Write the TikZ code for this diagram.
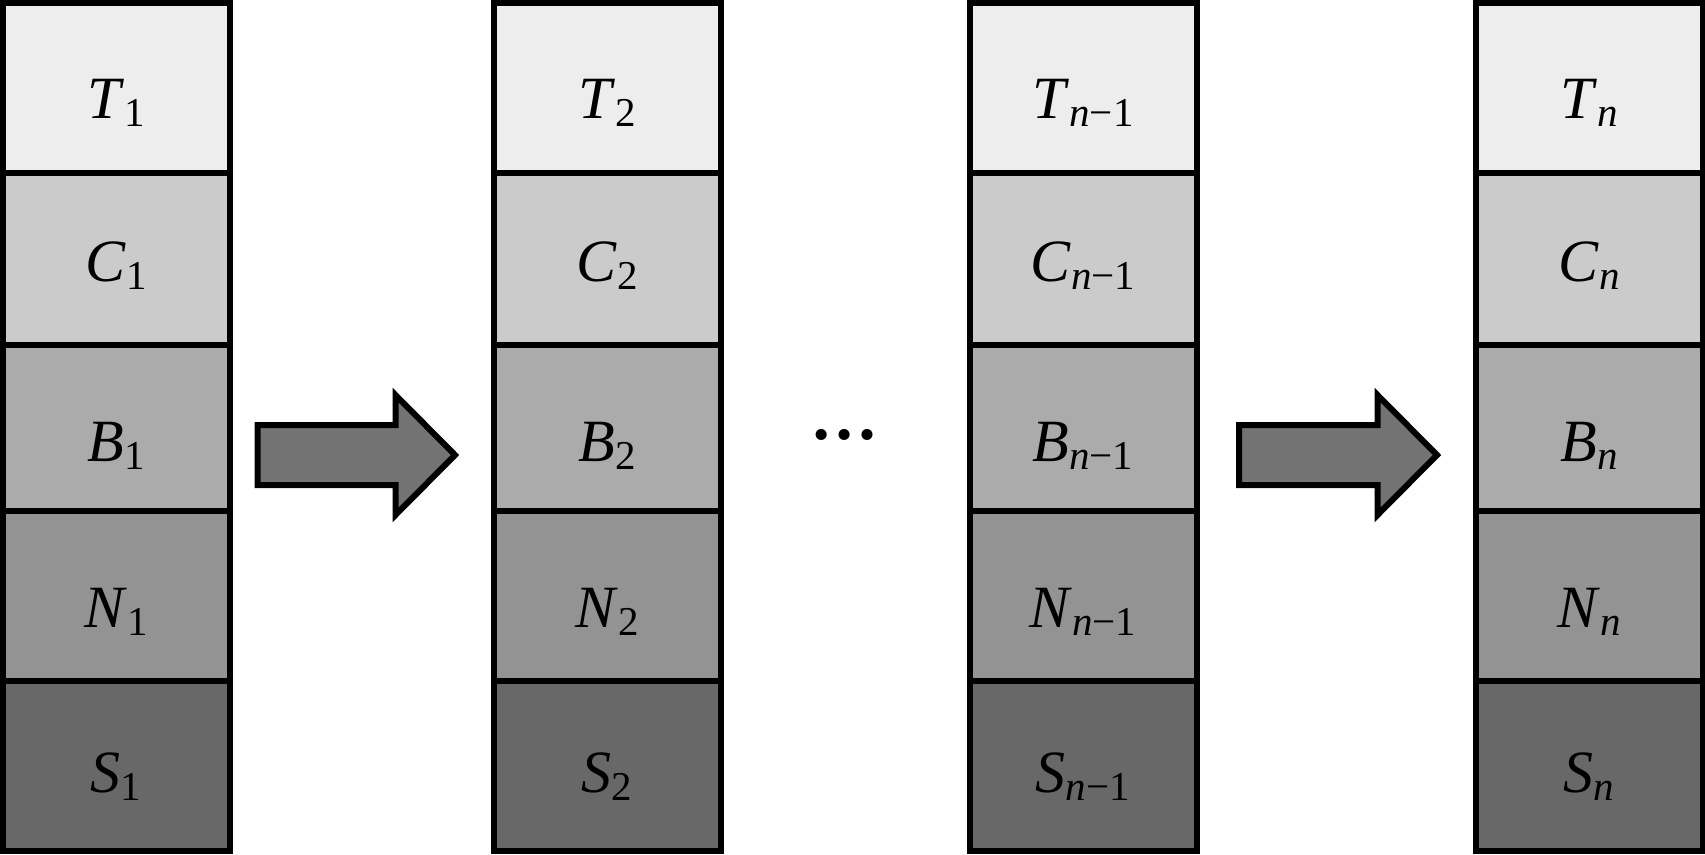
\documentclass[tikz,border=0pt]{standalone}
\usepackage{fontspec}
\setmainfont{Liberation Serif}
\definecolor{tcol}{HTML}{EDEDED}
\definecolor{ccol}{HTML}{CBCBCB}
\definecolor{bcol}{HTML}{ABABAB}
\definecolor{ncol}{HTML}{939393}
\definecolor{scol}{HTML}{686868}
\definecolor{arrowgray}{HTML}{737373}
\newcommand\lsub[1]{\raisebox{-8pt}{\fontsize{41}{41}\selectfont #1}}
\begin{document}
\begin{tikzpicture}[x=1pt,y=-1pt,
  cell/.style={draw=black, line width=6pt, minimum width=227pt, inner sep=0pt, outer sep=0pt},
  lab/.style={anchor=base, inner sep=0pt, font=\fontsize{60}{60}\selectfont},
  blockarrow/.style={draw=black, line width=6pt, fill=arrowgray, line join=miter}]
\useasboundingbox (0,0) rectangle (1705,854);
\foreach \col/\x/\s in {a/116/1, b/607/2, c/1083/{\textit{n}−1}, d/1589/{\textit{n}}}{
  \foreach \r/\L/\tp/\bt/\bs/\fc in {t/T/3/173/118/tcol, c/C/173/345/281/ccol, b/B/345/511/461/bcol, n/N/511/681/627/ncol, s/S/681/850.5/792/scol}{
    \pgfmathsetmacro\yc{(\tp+\bt)/2}
    \pgfmathsetmacro\hh{\bt-\tp}
    \node[cell, fill=\fc, minimum height=\hh pt] (\r\col) at (\x,\yc) {};
    \node[lab] (\r\col-l) at (\x,\bs) {\textit{\L}\lsub{\s}};
  }
}
% block arrows
\draw[blockarrow] (257.5,425) -- (395.5,425) -- (395.5,395) -- (455,455) -- (395.5,515) -- (395.5,485) -- (257.5,485) -- cycle;
\draw[blockarrow] (1239,425) -- (1377.5,425) -- (1377.5,395) -- (1437,455) -- (1377.5,515) -- (1377.5,485) -- (1239,485) -- cycle;
\node[lab, font=\bfseries\fontsize{68}{68}\selectfont] (dots) at (844,439) {…};
\end{tikzpicture}
\end{document}
